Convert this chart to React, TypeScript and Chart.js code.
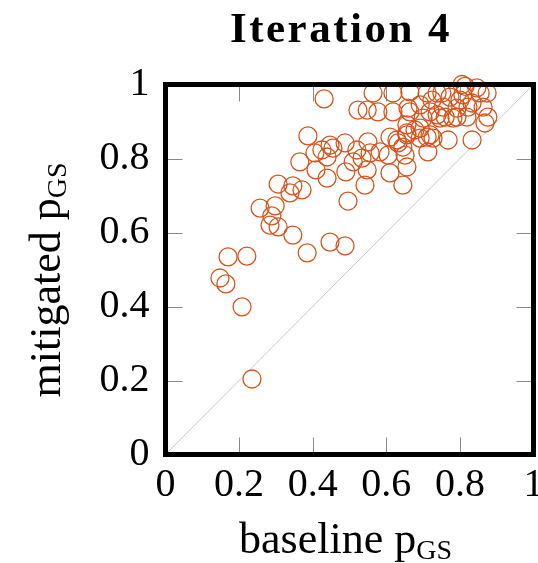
import React, { useEffect, useRef } from "react";
import { Chart, registerables } from "chart.js";

Chart.register(...registerables);

const titleText = "Iteration 4";
const xTitleMain = "baseline p";
const yTitleMain = "mitigated p";
const titleSub = "GS";
const tickValues = [0, 0.2, 0.4, 0.6, 0.8, 1];

const baselineP = [
  0.235, 0.208, 0.148, 0.164, 0.170, 0.221, 0.257, 0.298, 0.289, 0.284,
  0.306, 0.346, 0.385, 0.447, 0.488, 0.306, 0.346, 0.371, 0.338, 0.387,
  0.431, 0.447, 0.455, 0.406, 0.439, 0.365, 0.409, 0.439, 0.496, 0.490,
  0.425, 0.550, 0.534, 0.510, 0.548, 0.542, 0.605, 0.610, 0.645, 0.656,
  0.629, 0.692, 0.713, 0.768, 0.645, 0.678, 0.610, 0.656, 0.520, 0.583,
  0.488, 0.632, 0.719, 0.556, 0.651, 0.833, 0.727, 0.564, 0.618, 0.664,
  0.711, 0.751, 0.806, 0.846, 0.874, 0.800, 0.833, 0.548, 0.618, 0.664,
  0.719, 0.760, 0.792, 0.876, 0.692, 0.656, 0.711, 0.523, 0.577, 0.659,
  0.692, 0.724, 0.700, 0.738, 0.814, 0.738, 0.773, 0.808, 0.855, 0.754,
  0.792, 0.822, 0.863, 0.746, 0.781, 0.819, 0.868, 0.656,
];

const mitigatedP = [
  0.204, 0.399, 0.477, 0.461, 0.534, 0.536, 0.666, 0.672, 0.645, 0.620,
  0.615, 0.593, 0.545, 0.574, 0.564, 0.731, 0.726, 0.715, 0.707, 0.861,
  0.961, 0.836, 0.828, 0.815, 0.804, 0.791, 0.769, 0.747, 0.685, 0.764,
  0.823, 0.845, 0.801, 0.791, 0.769, 0.728, 0.809, 0.761, 0.728, 0.777,
  0.850, 0.855, 0.818, 0.850, 0.831, 0.877, 0.858, 0.864, 0.823, 0.818,
  0.842, 0.842, 0.864, 0.815, 0.809, 0.850, 0.855, 0.977, 0.977, 0.980,
  0.977, 0.977, 1.0, 0.991, 0.977, 0.958, 0.950, 0.931, 0.926, 0.926,
  0.926, 0.912, 0.912, 0.912, 0.882, 0.869, 0.858, 0.931, 0.926, 0.936,
  0.945, 0.958, 0.909, 0.918, 0.995, 0.977, 0.966, 0.972, 0.977, 0.939,
  0.936, 0.939, 0.939, 0.909, 0.909, 0.912, 0.896, 0.891,
];

const diagonalX = [0, 1];
const diagonalY = [0, 1];

const SERIF = '"Liberation Serif", "DejaVu Serif", serif';
const AREA_RIGHT = 533.5;

function drawSubTitle(ctx: CanvasRenderingContext2D, main: string, sub: string, cx: number, baseY: number) {
  ctx.font = `44px ${SERIF}`;
  const wMain = ctx.measureText(main).width;
  ctx.font = `28px ${SERIF}`;
  const wSub = ctx.measureText(sub).width;
  const total = wMain + wSub;
  const x0 = cx - total / 2;
  ctx.textAlign = "left";
  ctx.textBaseline = "alphabetic";
  ctx.font = `44px ${SERIF}`;
  ctx.fillText(main, x0, baseY);
  ctx.font = `28px ${SERIF}`;
  ctx.fillText(sub, x0 + wMain, baseY + 6);
}

const framePlugin = {
  id: "framePlugin",
  afterLayout(chart: any) {
    const ca = chart.chartArea;
    if (Math.abs(ca.right - AREA_RIGHT) > 0.01) {
      ca.right = AREA_RIGHT;
      ca.width = ca.right - ca.left;
      const xs = chart.scales.x;
      xs.right = AREA_RIGHT;
      xs.width = xs.right - xs.left;
      xs.configure();
    }
  },
  beforeDatasetsDraw(chart: any) {
    const { ctx, chartArea, scales } = chart;
    const { left, right, top, bottom } = chartArea;
    ctx.save();
    ctx.strokeStyle = "#8a8a8a";
    ctx.lineWidth = 1;
    const len = 17;
    tickValues.forEach((v) => {
      if (v <= 0 || v >= 1) return;
      const px = Math.round(scales.x.getPixelForValue(v)) + 0.5;
      const py = Math.round(scales.y.getPixelForValue(v)) + 0.5;
      ctx.beginPath();
      ctx.moveTo(px, bottom);
      ctx.lineTo(px, bottom - len);
      ctx.moveTo(px, top);
      ctx.lineTo(px, top + len);
      ctx.moveTo(left, py);
      ctx.lineTo(left + len, py);
      ctx.moveTo(right, py);
      ctx.lineTo(right - len, py);
      ctx.stroke();
    });
    ctx.restore();
  },
  afterDatasetsDraw(chart: any) {
    const { ctx, chartArea } = chart;
    const { left, right, top, bottom } = chartArea;
    ctx.save();
    ctx.strokeStyle = "#000";
    ctx.lineWidth = 5;
    ctx.strokeRect(left, top, right - left, bottom - top);
    ctx.restore();
  },
  afterDraw(chart: any) {
    const { ctx, chartArea } = chart;
    ctx.save();
    ctx.fillStyle = "#000";
    ctx.font = `bold 43px ${SERIF}`;
    (ctx as any).letterSpacing = "2.5px";
    ctx.textAlign = "center";
    ctx.textBaseline = "alphabetic";
    ctx.fillText(titleText, 341, 42);
    (ctx as any).letterSpacing = "0px";
    drawSubTitle(ctx, xTitleMain, titleSub, (chartArea.left + chartArea.right) / 2 - 4, 553);
    ctx.save();
    ctx.translate(60, 280);
    ctx.rotate(-Math.PI / 2);
    drawSubTitle(ctx, yTitleMain, titleSub, 0, 0);
    ctx.restore();
    ctx.restore();
  },
};

export default function App() {
  const canvasRef = useRef<HTMLCanvasElement | null>(null);

  useEffect(() => {
    const canvas = canvasRef.current;
    if (!canvas) return;
    const points = baselineP.map((x, i) => ({ x, y: mitigatedP[i] }));
    const diag = diagonalX.map((x, i) => ({ x, y: diagonalY[i] }));
    const fmt = (v: any) => String(Math.round(Number(v) * 10) / 10);
    const chart = new Chart(canvas, {
      type: "scatter",
      data: {
        datasets: [
          {
            label: "points",
            data: points,
            pointStyle: "circle",
            pointRadius: 9,
            pointHoverRadius: 9,
            backgroundColor: "rgba(0,0,0,0)",
            borderColor: "#D95319",
            borderWidth: 1.3,
            clip: false as any,
          },
          {
            type: "line" as any,
            label: "diagonal",
            data: diag,
            borderColor: "#c8c8d2",
            borderWidth: 1,
            pointRadius: 0,
            fill: false,
          },
        ],
      },
      options: {
        responsive: false,
        animation: false,
        devicePixelRatio: 1,
        layout: { padding: { top: 84.5, right: 4.5, left: 0, bottom: 0 } },
        plugins: {
          legend: { display: false },
          tooltip: { enabled: false },
          title: { display: false },
        },
        scales: {
          x: {
            type: "linear",
            min: 0,
            max: 1,
            afterBuildTicks: (scale: any) => {
              scale.ticks = tickValues.map((v) => ({ value: v }));
            },
            afterFit: (scale: any) => {
              scale.height = 108.5;
              scale.paddingLeft = 0;
              scale.paddingRight = 0;
            },
            grid: { display: false, drawTicks: false },
            border: { display: false },
            ticks: {
              autoSkip: false,
              maxRotation: 0,
              minRotation: 0,
              padding: 7,
              color: "#000",
              font: { family: SERIF, size: 40 },
              callback: fmt,
            },
          },
          y: {
            type: "linear",
            min: 0,
            max: 1,
            afterBuildTicks: (scale: any) => {
              scale.ticks = tickValues.map((v) => ({ value: v }));
            },
            afterFit: (scale: any) => {
              scale.width = 165.5;
              scale.paddingTop = 0;
              scale.paddingBottom = 0;
            },
            grid: { display: false, drawTicks: false },
            border: { display: false },
            ticks: {
              autoSkip: false,
              padding: 16,
              color: "#000",
              font: { family: SERIF, size: 40 },
              callback: fmt,
            },
          },
        },
      },
      plugins: [framePlugin],
    });
    return () => chart.destroy();
  }, []);

  return (
    <div style={{ position: "fixed", left: 0, top: 0, width: 538, height: 563, background: "#fff" }}>
      <canvas ref={canvasRef} width={538} height={563} style={{ display: "block" }} />
    </div>
  );
}
